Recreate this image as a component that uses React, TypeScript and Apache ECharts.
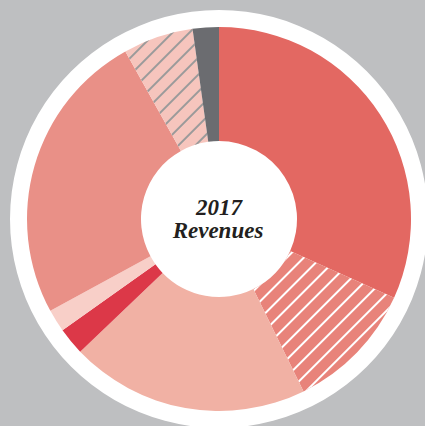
import React, { useEffect, useRef } from "react";
import * as echarts from "echarts";

const categories = ["A", "B", "C", "D", "E", "F", "G", "H"];
const values = [31.7, 11.0, 20.1, 2.3, 1.9, 24.8, 5.9, 2.2];
const colors = ["#e36862", "#e8837a", "#f1b1a4", "#dc3848", "#f8cfc8", "#e99087", "#f6c5bd", "#6b6c70"];
const hatched = [false, true, false, false, false, false, true, false];
const hatchColors = ["", "#ffffff", "", "", "", "", "#9a9a9a", ""];
const titleLines = ["2017", "Revenues"];

export default function App() {
  const ref = useRef<HTMLDivElement>(null);
  useEffect(() => {
    const chart = echarts.init(ref.current!, null, { renderer: "svg" });
    const data = categories.map((c, i) => ({
      name: c,
      value: values[i],
      itemStyle: {
        color: colors[i],
        decal: hatched[i]
          ? {
              symbol: "rect",
              symbolSize: 1,
              color: hatchColors[i],
              dashArrayX: [1, 0],
              dashArrayY: [1.2, 9.6],
              rotation: -Math.PI / 4,
            }
          : "none",
      },
    }));
    chart.setOption({
      animation: false,
      backgroundColor: "#bebfc1",
      graphic: [
        { type: "circle", shape: { cx: 219, cy: 219, r: 209 }, style: { fill: "#ffffff" }, z: 0 },
        {
          type: "text",
          x: 219,
          y: 207,
          z: 10,
          style: {
            text: titleLines[0],
            align: "center",
            verticalAlign: "middle",
            font: "italic bold 23px 'Liberation Serif', serif",
            fill: "#231f20",
          },
        },
        {
          type: "text",
          x: 218,
          y: 230,
          z: 10,
          style: {
            text: titleLines[1],
            align: "center",
            verticalAlign: "middle",
            font: "italic bold 23px 'Liberation Serif', serif",
            fill: "#231f20",
          },
        },
      ],
      series: [
        {
          type: "pie",
          center: [219, 219],
          radius: [78, 192],
          startAngle: 90,
          clockwise: true,
          label: { show: false },
          labelLine: { show: false },
          emphasis: { disabled: true },
          z: 5,
          data,
        },
      ],
    });
    return () => chart.dispose();
  }, []);
  return <div ref={ref} style={{ position: "fixed", left: 0, top: 0, width: 425, height: 426 }} />;
}
